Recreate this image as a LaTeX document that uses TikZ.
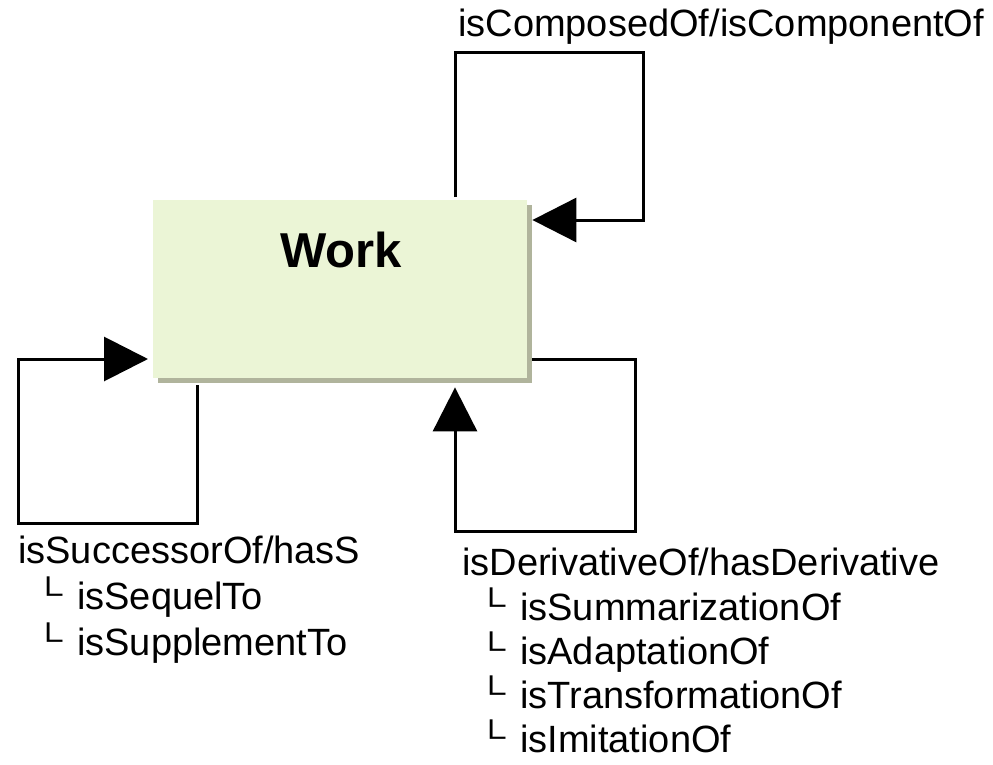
\documentclass[tikz,border=0pt]{standalone}
\usepackage{fontspec}
\usepackage{graphicx}
\setmainfont{Liberation Sans}
\usetikzlibrary{arrows.meta}
\definecolor{workfill}{RGB}{235,245,214}
\definecolor{workshadow}{RGB}{176,180,156}
\newcommand{\branch}{\makebox[32pt][l]{\hspace*{-11pt}\raisebox{5pt}{\scalebox{1.05}[0.8]{\fontsize{38}{38}\selectfont └}}}}
\begin{document}
\begin{tikzpicture}[x=1pt,y=-1pt,
  link/.style={line width=3pt, line join=miter, -{Triangle[length=44pt,width=44pt]}},
  lbl/.style={anchor=base west, inner sep=0pt, font=\fontsize{38}{44}\selectfont},
  workbox/.style={fill=workfill, draw=none, minimum width=374pt, minimum height=178pt, inner sep=0pt, anchor=north west}]
\useasboundingbox (0,0) rectangle (993,765);
% shadow and box
\fill[workshadow] (158,205) rectangle (532,383);
\node[workbox] (work) at (153,200) {};
\node[anchor=base, inner sep=0pt, font=\fontsize{49}{49}\selectfont\bfseries] (worktitle) at (341,267) {Work};
% loop coordinates
\coordinate (tA) at (455,53);
\coordinate (tB) at (643,53);
\coordinate (tC) at (643,220);
\coordinate (lA) at (197,523);
\coordinate (lB) at (18,523);
\coordinate (lC) at (18,359);
\coordinate (rA) at (635,359);
\coordinate (rB) at (635,531);
\coordinate (rC) at (455,531);
% top loop
\draw[link] ([yshift=3pt]work.north -| tA) -- (tA) -- (tB) -- (tC) -- ([xshift=5pt]work.east |- tC);
% left loop
\draw[link] ([yshift=-7pt]work.south -| lA) -- (lA) -- (lB) -- (lC) -- ([xshift=-5pt]work.west |- lC);
% right loop
\draw[link] ([xshift=5pt]work.east |- rA) -- (rA) -- (rB) -- (rC) -- ([yshift=-9pt]work.south -| rC);
% labels
\node[lbl] (top) at (458,37) {isComposedOf/isComponentOf};
\node[lbl] (left0) at (18,563) {isSuccessorOf/hasS};
\node[lbl] (left1) at (45,609) {\branch isSequelTo};
\node[lbl] (left2) at (45,655) {\branch isSupplementTo};
\node[lbl] (right0) at (462,575) {isDerivativeOf/hasDerivative};
\node[lbl] (right1) at (488,620) {\branch isSummarizationOf};
\node[lbl] (right2) at (488,664) {\branch isAdaptationOf};
\node[lbl] (right3) at (488,708) {\branch isTransformationOf};
\node[lbl] (right4) at (488,752) {\branch isImitationOf};
\end{tikzpicture}
\end{document}
